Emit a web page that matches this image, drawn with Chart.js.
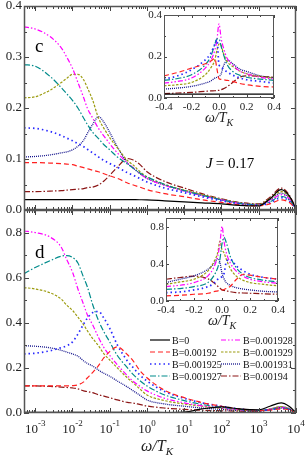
<!DOCTYPE html>
<html>
<head>
<meta charset="utf-8">
<script src="https://cdn.jsdelivr.net/npm/chart.js@4.4.1/dist/chart.umd.min.js"></script>
<style>
  html, body { margin: 0; padding: 0; background: #fff; }
  #wrap { position: relative; width: 306px; height: 458px; }
  #wrap canvas { position: absolute; left: 0; top: 0; }
</style>
</head>
<body>
<div id="wrap">
  <canvas id="mainC" width="306" height="458"></canvas>
  <canvas id="mainD" width="306" height="458"></canvas>
  <canvas id="insetC" width="306" height="458"></canvas>
  <canvas id="insetD" width="306" height="458"></canvas>
</div>
<script>
// omega / T_K grid of the big panels
const W = [5e-4, 1e-3, 2.5e-3, 5e-3, 7e-3, 1e-2, 1.4e-2, 2e-2, 2.5e-2, 3.5e-2, 5e-2, 7e-2, 0.1, 0.16,
           0.3, 0.43, 0.63, 1, 3, 10, 30, 100, 300, 1000, 2000, 4000, 6500, 1e4];

// panel c (J = 0.17)
const C_B0    = [0.0205,0.0205,0.0205,0.0205,0.0205,0.0205,0.0205,0.0205,0.0205,0.0205,0.0205,0.0205,0.0205,0.0204,0.0203,0.0202,0.0201,0.02,0.018,0.016,0.014,0.012,0.009,0.008,0.022,0.04,0.028,0.003];
const C_192   = [0.093,0.093,0.092,0.091,0.09,0.089,0.086,0.083,0.081,0.078,0.075,0.071,0.067,0.062,0.053,0.049,0.045,0.04,0.032,0.026,0.02,0.015,0.01,0.008,0.012,0.02,0.015,0.002];
const C_1925  = [0.161,0.16,0.154,0.146,0.141,0.136,0.13,0.124,0.119,0.112,0.104,0.097,0.091,0.084,0.073,0.068,0.062,0.055,0.043,0.034,0.026,0.018,0.012,0.009,0.014,0.024,0.018,0.002];
const C_1927  = [0.285,0.282,0.262,0.24,0.228,0.215,0.2,0.18,0.168,0.152,0.14,0.128,0.118,0.104,0.09,0.082,0.073,0.065,0.05,0.038,0.029,0.02,0.013,0.01,0.016,0.027,0.02,0.002];
const C_1928  = [0.359,0.355,0.34,0.318,0.3,0.278,0.25,0.22,0.2,0.18,0.16,0.145,0.13,0.112,0.092,0.083,0.072,0.062,0.048,0.037,0.028,0.02,0.013,0.01,0.018,0.03,0.022,0.002];
const C_1929  = [0.22,0.222,0.235,0.25,0.258,0.266,0.266,0.255,0.24,0.215,0.18,0.16,0.142,0.122,0.097,0.088,0.076,0.065,0.05,0.039,0.03,0.021,0.014,0.011,0.022,0.036,0.026,0.002];
const C_1931  = [0.104,0.105,0.108,0.112,0.114,0.118,0.125,0.137,0.15,0.168,0.183,0.172,0.152,0.124,0.092,0.082,0.072,0.062,0.049,0.038,0.029,0.02,0.014,0.011,0.02,0.033,0.024,0.002];
const C_194   = [0.036,0.036,0.037,0.038,0.039,0.04,0.041,0.042,0.044,0.045,0.049,0.057,0.068,0.084,0.101,0.098,0.09,0.075,0.056,0.043,0.032,0.022,0.015,0.012,0.025,0.043,0.03,0.003];

// panel d
const D_B0    = [0.003,0.003,0.003,0.003,0.003,0.003,0.003,0.003,0.003,0.003,0.003,0.003,0.003,0.003,0.003,0.003,0.003,0.003,0.002,0.004,0.018,0.027,0.018,0.014,0.03,0.045,0.03,0.002];
const D_192   = [0.12,0.12,0.12,0.12,0.12,0.121,0.125,0.138,0.155,0.18,0.21,0.245,0.272,0.293,0.258,0.23,0.19,0.156,0.1,0.068,0.046,0.03,0.018,0.012,0.013,0.018,0.014,0.002];
const D_1925  = [0.262,0.265,0.276,0.29,0.298,0.315,0.35,0.395,0.42,0.445,0.45,0.42,0.375,0.302,0.23,0.2,0.17,0.142,0.095,0.065,0.045,0.03,0.018,0.012,0.014,0.02,0.015,0.002];
const D_1927  = [0.618,0.645,0.675,0.695,0.698,0.69,0.665,0.6,0.56,0.48,0.41,0.36,0.315,0.255,0.2,0.17,0.145,0.12,0.08,0.055,0.038,0.025,0.016,0.011,0.015,0.022,0.017,0.002];
const D_1928  = [0.807,0.8,0.78,0.735,0.68,0.625,0.55,0.48,0.436,0.39,0.335,0.29,0.255,0.214,0.165,0.14,0.12,0.098,0.065,0.045,0.032,0.022,0.014,0.01,0.016,0.024,0.018,0.002];
const D_1929  = [0.556,0.55,0.533,0.505,0.478,0.455,0.425,0.391,0.365,0.33,0.298,0.262,0.235,0.2,0.155,0.133,0.108,0.08,0.055,0.04,0.03,0.02,0.013,0.01,0.018,0.028,0.02,0.002];
const D_1931  = [0.298,0.296,0.289,0.278,0.27,0.262,0.252,0.231,0.22,0.208,0.19,0.176,0.163,0.142,0.115,0.098,0.08,0.058,0.04,0.03,0.022,0.016,0.011,0.009,0.017,0.028,0.02,0.002];
const D_194   = [0.12,0.12,0.118,0.115,0.113,0.111,0.107,0.098,0.095,0.09,0.081,0.075,0.068,0.058,0.047,0.044,0.038,0.031,0.022,0.016,0.012,0.01,0.008,0.007,0.015,0.025,0.018,0.002];

// insets, linear omega / T_K
const X_IN = [-0.4,-0.3,-0.2,-0.1,-0.06,-0.03,-0.015,0,0.015,0.03,0.06,0.1,0.15,0.2,0.3,0.4];

const IC_B0   = [0.019,0.019,0.019,0.019,0.019,0.019,0.019,0.019,0.019,0.019,0.019,0.019,0.019,0.019,0.019,0.019];
const IC_192  = [0.107,0.123,0.144,0.165,0.178,0.19,0.14,0.093,0.09,0.088,0.085,0.08,0.07,0.064,0.056,0.053];
const IC_1925 = [0.091,0.107,0.136,0.184,0.215,0.26,0.28,0.16,0.15,0.14,0.125,0.11,0.097,0.088,0.08,0.072];
const IC_1927 = [0.085,0.094,0.112,0.16,0.2,0.26,0.285,0.285,0.25,0.215,0.16,0.128,0.11,0.1,0.091,0.085];
const IC_1928 = [0.072,0.08,0.096,0.144,0.18,0.232,0.28,0.357,0.29,0.248,0.19,0.16,0.13,0.117,0.1,0.091];
const IC_1929 = [0.059,0.064,0.075,0.112,0.145,0.184,0.23,0.26,0.255,0.22,0.175,0.152,0.13,0.117,0.104,0.096];
const IC_1931 = [0.043,0.048,0.056,0.072,0.082,0.096,0.1,0.105,0.115,0.15,0.183,0.165,0.14,0.128,0.107,0.096];
const IC_194  = [0.021,0.024,0.027,0.032,0.034,0.035,0.036,0.037,0.04,0.044,0.055,0.075,0.1,0.107,0.104,0.1];

const ID_B0   = [0.003,0.003,0.003,0.003,0.003,0.003,0.003,0.003,0.003,0.003,0.003,0.003,0.003,0.003,0.003,0.003];
const ID_192  = [0.055,0.062,0.073,0.084,0.1,0.11,0.115,0.12,0.125,0.135,0.16,0.23,0.29,0.28,0.255,0.236];
const ID_1925 = [0.091,0.098,0.12,0.156,0.19,0.236,0.25,0.265,0.3,0.42,0.45,0.382,0.33,0.29,0.255,0.236];
const ID_1927 = [0.127,0.135,0.156,0.2,0.27,0.364,0.45,0.62,0.69,0.636,0.48,0.364,0.29,0.255,0.225,0.207];
const ID_1928 = [0.156,0.171,0.2,0.273,0.36,0.49,0.62,0.81,0.64,0.527,0.41,0.327,0.27,0.236,0.207,0.193];
const ID_1929 = [0.18,0.207,0.236,0.327,0.42,0.527,0.65,0.556,0.52,0.455,0.35,0.273,0.225,0.2,0.18,0.164];
const ID_1931 = [0.2,0.236,0.273,0.345,0.4,0.46,0.42,0.3,0.24,0.2,0.17,0.145,0.13,0.12,0.105,0.098];
const ID_194  = [0.236,0.255,0.27,0.24,0.2,0.16,0.14,0.12,0.115,0.11,0.1,0.091,0.087,0.084,0.078,0.073];

// ticks
const X_MAJOR = [1e-3, 1e-2, 1e-1, 1, 10, 100, 1000, 1e4];
const X_EXP   = ['-3', '-2', '-1', '0', '1', '2', '3', '4'];
const YC_TICKS = [0, 0.1, 0.2, 0.3, 0.4];
const YD_TICKS = [0, 0.2, 0.4, 0.6, 0.8];
const IN_X_TICKS = [-0.4, -0.2, 0, 0.2, 0.4];
const IC_Y_TICKS = [0, 0.2, 0.4];
const ID_Y_TICKS = [0, 0.4, 0.8];

const SERIES = [
  { label: 'B=0',       color: '#000000', dash: [],                w: 1.2 },
  { label: 'B=0.00192', color: '#ff2020', dash: [5, 3],            w: 1.2 },
  { label: 'B=0.001925',color: '#2828ff', dash: [1.5, 3],          w: 1.7 },
  { label: 'B=0.001927',color: '#008b8b', dash: [6, 2, 1.5, 2],    w: 1.2 },
  { label: 'B=0.001928',color: '#ff00ff', dash: [5, 2, 1.5, 2, 1.5, 2], w: 1.2 },
  { label: 'B=0.001929',color: '#9c9c10', dash: [2.5, 1.5],        w: 1.2 },
  { label: 'B=0.001931',color: '#14148c', dash: [1, 1],            w: 1.3 },
  { label: 'B=0.00194', color: '#8b1515', dash: [6, 2, 1.5, 2],    w: 1.2 }
];

const SERIF = "'Liberation Serif', 'Times New Roman', serif";

function datasets(xs, cols) {
  return cols.map((ys, i) => ({
    label: SERIES[i].label,
    data: xs.map((x, j) => ({ x: x, y: ys[j] })),
    borderColor: SERIES[i].color,
    borderDash: SERIES[i].dash,
    borderWidth: SERIES[i].w,
    pointRadius: 0,
    fill: false,
    cubicInterpolationMode: 'monotone'
  }));
}

// frame with inward ticks on all four sides, plus tick labels
function framePlugin(o) {
  return {
    id: 'frame',
    beforeDraw(chart) {
      if (!o.white) return;
      const a = chart.chartArea, ctx = chart.ctx;
      ctx.save();
      ctx.fillStyle = '#fff';
      ctx.fillRect(a.left, a.top, a.right - a.left, a.bottom - a.top);
      ctx.restore();
    },
    afterDraw(chart) {
      const ctx = chart.ctx, a = chart.chartArea, xs = chart.scales.x, ys = chart.scales.y;
      ctx.save();
      ctx.strokeStyle = '#444';
      ctx.lineWidth = 1;
      ctx.beginPath();
      const tickX = (v, len) => {
        const p = Math.round(xs.getPixelForValue(v)) + 0.5;
        ctx.moveTo(p, a.bottom); ctx.lineTo(p, a.bottom - len);
        ctx.moveTo(p, a.top); ctx.lineTo(p, a.top + len);
      };
      const tickY = (v, len) => {
        const p = Math.round(ys.getPixelForValue(v)) + 0.5;
        ctx.moveTo(a.left, p); ctx.lineTo(a.left + len, p);
        ctx.moveTo(a.right, p); ctx.lineTo(a.right - len, p);
      };
      o.xMajor.forEach(v => tickX(v, o.major));
      o.xMinor.forEach(v => tickX(v, o.minor));
      o.yMajor.forEach(v => tickY(v, o.major));
      o.yMinor.forEach(v => tickY(v, o.minor));
      ctx.stroke();
      ctx.lineWidth = o.frameW;
      ctx.strokeStyle = '#555';
      ctx.strokeRect(a.left + 0.5, a.top + 0.5, a.right - a.left - 1, a.bottom - a.top - 1);

      ctx.fillStyle = '#222';
      ctx.font = o.fs + 'px ' + SERIF;
      ctx.textAlign = 'right';
      ctx.textBaseline = 'middle';
      o.yMajor.forEach((v, i) => ctx.fillText(o.yLabels[i], a.left - 2, ys.getPixelForValue(v)));

      if (o.xLabels) {
        ctx.textBaseline = 'alphabetic';
        ctx.textAlign = 'center';
        o.xMajor.forEach((v, i) => ctx.fillText(o.xLabels[i], xs.getPixelForValue(v), a.bottom + o.fs + 1));
      }
      if (o.xExp) {
        ctx.textBaseline = 'alphabetic';
        ctx.textAlign = 'left';
        o.xMajor.forEach((v, i) => {
          ctx.font = o.fs + 'px ' + SERIF;
          const w1 = ctx.measureText('10').width;
          ctx.font = (o.fs - 4) + 'px ' + SERIF;
          const w2 = ctx.measureText(o.xExp[i]).width;
          const left = xs.getPixelForValue(v) - (w1 + w2) / 2;
          ctx.font = o.fs + 'px ' + SERIF;
          ctx.fillText('10', left, a.bottom + 20);
          ctx.font = (o.fs - 4) + 'px ' + SERIF;
          ctx.fillText(o.xExp[i], left + w1, a.bottom + 13);
        });
      }
      if (o.title) {
        const cx = (a.left + a.right) / 2 + o.title.dx;
        ctx.textAlign = 'left';
        ctx.font = 'italic ' + o.title.fs + 'px ' + SERIF;
        const w1 = ctx.measureText('\u03c9/T').width;
        ctx.font = 'italic ' + Math.round(o.title.fs * 0.7) + 'px ' + SERIF;
        const w2 = ctx.measureText('K').width;
        const x0 = cx - (w1 + w2) / 2;
        ctx.font = 'italic ' + o.title.fs + 'px ' + SERIF;
        ctx.fillText('\u03c9/T', x0, o.title.y);
        ctx.font = 'italic ' + Math.round(o.title.fs * 0.7) + 'px ' + SERIF;
        ctx.fillText('K', x0 + w1, o.title.y + 4);
      }
      if (o.extra) o.extra(ctx, a);
      ctx.restore();
    }
  };
}

const LOG_MINOR = [];
for (let e = -4; e < 4; e++) for (let k = 2; k <= 9; k++) {
  const v = k * Math.pow(10, e);
  if (v >= 5e-4 && v <= 1e4) LOG_MINOR.push(v);
}

function makeChart(id, xs, cols, xScale, yMax, padding, frameOpts) {
  return new Chart(document.getElementById(id), {
    type: 'line',
    data: { datasets: datasets(xs, cols) },
    options: {
      responsive: false,
      animation: false,
      devicePixelRatio: 1,
      layout: { padding: padding },
      plugins: { legend: { display: false }, tooltip: { enabled: false } },
      scales: {
        x: Object.assign({ display: false }, xScale),
        y: { type: 'linear', min: 0, max: yMax, display: false }
      }
    },
    plugins: [framePlugin(frameOpts)]
  });
}

// panel c
makeChart('mainC', W, [C_B0, C_192, C_1925, C_1927, C_1928, C_1929, C_1931, C_194],
  { type: 'logarithmic', min: 5e-4, max: 1e4 }, 0.4,
  { left: 24, right: 10, top: 6, bottom: 248 },
  { xMajor: X_MAJOR, xMinor: LOG_MINOR, yMajor: YC_TICKS, yMinor: [0.05, 0.15, 0.25, 0.35],
    yLabels: ['0.0', '0.1', '0.2', '0.3', '0.4'], major: 5, minor: 3, frameW: 1.5, fs: 13,
    extra: (ctx) => {
      ctx.fillStyle = '#000';
      ctx.textAlign = 'left';
      ctx.textBaseline = 'alphabetic';
      ctx.font = '19px ' + SERIF;
      ctx.fillText('c', 35, 52);
      ctx.font = 'italic 15px ' + SERIF;
      ctx.fillText('J', 206, 168);
      ctx.font = '15px ' + SERIF;
      ctx.fillText(' = 0.17', 212, 168);
    } });

// panel d
makeChart('mainD', W, [D_B0, D_192, D_1925, D_1927, D_1928, D_1929, D_1931, D_194],
  { type: 'logarithmic', min: 5e-4, max: 1e4 }, 0.9,
  { left: 24, right: 10, top: 210, bottom: 45 },
  { xMajor: X_MAJOR, xMinor: LOG_MINOR, xExp: X_EXP, yMajor: YD_TICKS, yMinor: [0.1, 0.3, 0.5, 0.7, 0.9],
    yLabels: ['0.0', '0.2', '0.4', '0.6', '0.8'], major: 5, minor: 3, frameW: 1.5, fs: 13,
    title: { fs: 16, y: 451, dx: -3 },
    extra: (ctx) => {
      ctx.fillStyle = '#000';
      ctx.textAlign = 'left';
      ctx.textBaseline = 'alphabetic';
      ctx.font = '19px ' + SERIF;
      ctx.fillText('d', 35, 258);
      // legend, two columns
      ctx.font = '10px ' + SERIF;
      ctx.textBaseline = 'middle';
      SERIES.forEach((s, i) => {
        const col = Math.floor(i / 4), row = i % 4;
        const x0 = col ? 221 : 150, y0 = 340 + row * 12;
        ctx.strokeStyle = s.color;
        ctx.lineWidth = s.w;
        ctx.setLineDash(s.dash);
        ctx.beginPath();
        ctx.moveTo(x0, y0); ctx.lineTo(x0 + 20, y0);
        ctx.stroke();
        ctx.setLineDash([]);
        ctx.fillStyle = '#111';
        ctx.fillText(s.label, x0 + 22, y0 + 1);
      });
    } });

// inset of panel c
makeChart('insetC', X_IN, [IC_B0, IC_192, IC_1925, IC_1927, IC_1928, IC_1929, IC_1931, IC_194],
  { type: 'linear', min: -0.4, max: 0.4 }, 0.4,
  { left: 164, right: 32, top: 15, bottom: 360 },
  { xMajor: IN_X_TICKS, xMinor: [-0.3, -0.1, 0.1, 0.3], xLabels: ['-0.4', '-0.2', '0.0', '0.2', '0.4'],
    yMajor: IC_Y_TICKS, yMinor: [0.1, 0.3], yLabels: ['0.0', '0.2', '0.4'],
    major: 3, minor: 2, frameW: 1, fs: 11, white: true,
    title: { fs: 14, y: 122, dx: 0 } });

// inset of panel d
makeChart('insetD', X_IN, [ID_B0, ID_192, ID_1925, ID_1927, ID_1928, ID_1929, ID_1931, ID_194],
  { type: 'linear', min: -0.4, max: 0.4 }, 0.9,
  { left: 166, right: 28, top: 218, bottom: 157 },
  { xMajor: IN_X_TICKS, xMinor: [-0.3, -0.1, 0.1, 0.3], xLabels: ['-0.4', '-0.2', '0.0', '0.2', '0.4'],
    yMajor: ID_Y_TICKS, yMinor: [0.2, 0.6], yLabels: ['0.0', '0.4', '0.8'],
    major: 3, minor: 2, frameW: 1, fs: 11, white: true,
    title: { fs: 14, y: 325, dx: 0 } });
</script>
</body>
</html>
